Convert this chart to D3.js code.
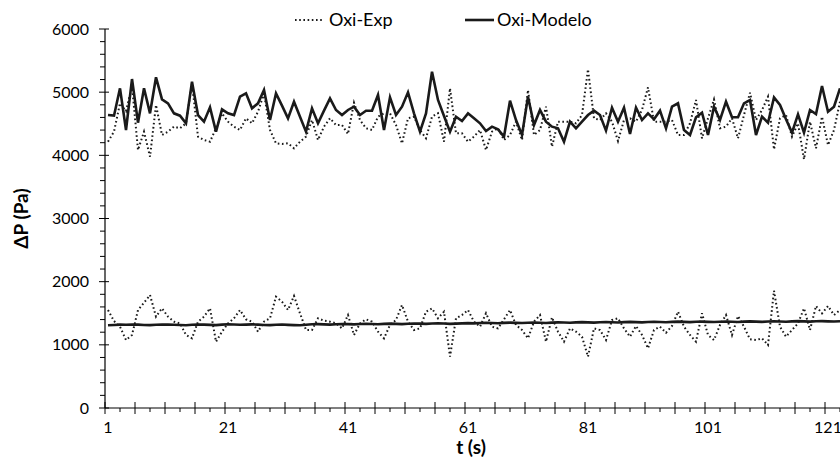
<!DOCTYPE html>
<html>
<head>
<meta charset="utf-8">
<script src="https://cdn.jsdelivr.net/npm/d3@7"></script>
<style>
  body { margin: 0; background: #fff; }
  svg { display: block; }
  text { font-family: Lato, "Open Sans", sans-serif; fill: #000; }
</style>
</head>
<body>
<svg id="chart" width="840" height="471"></svg>
<script>
// Pressure drop ΔP (Pa) per second: measured (Exp) vs. model (Modelo), two operating levels
const expHigh = [
  4216,4375,4823,4700,5100,4084,4375,3979,4797,4322,
  4375,4454,4428,4507,5140,4296,4243,4216,4428,4665,
  4533,4454,4401,4586,4507,4691,4981,4401,4190,4179,
  4190,4111,4216,4296,4559,4243,4454,4586,4480,4480,
  4338,4833,4559,4428,4401,4612,4665,4665,4480,4190,
  4586,4612,4401,4269,4612,4665,4216,5061,4348,4348,
  4216,4296,4401,4084,4375,4428,4243,4322,4533,4243,
  5034,4322,4400,4770,4137,4533,4533,4533,4507,4638,
  5361,4586,4559,4665,4533,4227,4559,4586,4533,4718,
  5076,4533,4533,4533,4559,4322,4322,4507,4876,4269,
  4586,4886,4428,4454,4586,4269,4638,4992,4559,4718,
  4929,4095,4586,4638,4296,4507,3937,4533,4111,4612,
  4163,4401,4849
];
const modelHigh = [
  4638,4628,5061,4401,5208,4517,5061,4665,5235,4886,
  4823,4665,4628,4507,5166,4638,4533,4760,4375,4728,
  4665,4638,4929,4981,4744,4823,5034,4559,4981,4786,
  4586,4849,4612,4375,4744,4507,4707,4902,4718,4638,
  4718,4770,4638,4707,4707,4955,4401,4918,4638,4770,
  4997,4665,4375,4665,5324,4876,4623,4375,4612,4543,
  4665,4586,4507,4385,4454,4412,4296,4865,4559,4322,
  4929,4480,4718,4533,4454,4428,4216,4533,4428,4533,
  4638,4707,4638,4391,4754,4533,4754,4338,4754,4559,
  4665,4570,4707,4428,4770,4823,4401,4322,4602,4675,
  4322,4770,4559,4849,4602,4602,4823,4876,4322,4612,
  4517,4918,4797,4570,4359,4649,4359,4718,4654,5097,
  4691,4770,5061
];
const expLow = [
  1551,1377,1287,1076,1156,1551,1667,1789,1446,1578,
  1446,1367,1340,1156,1103,1367,1446,1578,1050,1208,
  1340,1420,1551,1404,1367,1208,1367,1420,1762,1683,
  1551,1773,1499,1235,1235,1420,1382,1367,1340,1261,
  1472,1156,1340,1404,1367,1208,1103,1314,1393,1631,
  1367,1235,1261,1525,1578,1420,1525,813,1420,1472,
  1551,1367,1287,1499,1287,1261,1404,1551,1314,1235,
  1103,1367,1472,1050,1436,1208,1050,1261,1208,1129,
  813,1261,1235,1076,1393,1420,1261,1129,1298,1156,
  945,1235,1287,1192,1298,1525,1287,1156,1050,1499,
  1156,1076,1314,1472,1156,1456,1287,1087,1076,1103,
  997,1857,1287,1129,1235,1340,1578,1235,1615,1499,
  1615,1472,1550
];
const modelLow = [
  1310,1315,1320,1318,1322,1320,1315,1312,1318,1320,
  1322,1318,1315,1310,1318,1322,1320,1316,1312,1320,
  1325,1322,1318,1320,1324,1320,1315,1312,1318,1322,
  1316,1312,1310,1318,1325,1328,1324,1320,1326,1330,
  1328,1324,1330,1334,1330,1326,1332,1336,1332,1328,
  1334,1338,1336,1332,1338,1342,1338,1332,1336,1340,
  1344,1340,1346,1350,1346,1342,1348,1352,1348,1346,
  1350,1354,1350,1346,1352,1356,1354,1350,1356,1360,
  1356,1352,1358,1362,1358,1354,1360,1364,1360,1356,
  1362,1366,1362,1358,1364,1368,1364,1360,1366,1368,
  1364,1362,1366,1370,1366,1362,1368,1372,1368,1364,
  1370,1374,1370,1366,1372,1376,1372,1368,1374,1376,
  1372,1370,1374
];
const xTickLabels = [1, 21, 41, 61, 81, 101, 121];
const yTickValues = [0, 1000, 2000, 3000, 4000, 5000, 6000];
const seriesNames = ["Oxi-Exp", "Oxi-Modelo"];

const svg = d3.select("#chart");
const ink = "#1a1a1a";

// category k sits in the middle of its slot, slots 6 px wide starting at the value axis
const nCat = expHigh.length;
const x = d3.scaleLinear().domain([0.5, nCat + 0.5]).range([105, 105 + nCat * 6]);
const y = d3.scaleLinear().domain([0, 6000]).range([408, 29]);

// value axis: labels every 1000, minor ticks every 200
const yAxis = svg.append("g");
yAxis.append("line").attr("x1", x(0.5)).attr("x2", x(0.5))
  .attr("y1", y(0)).attr("y2", y(6000)).attr("stroke", "#000").attr("stroke-width", 1.2);
d3.range(0, 6001, 200).forEach(v => {
  const major = v % 1000 === 0;
  yAxis.append("line")
    .attr("x1", x(0.5) - (major ? 6 : 5)).attr("x2", x(0.5) + (major ? 4 : 0))
    .attr("y1", y(v)).attr("y2", y(v))
    .attr("stroke", "#000").attr("stroke-width", 1);
});
yAxis.selectAll("text.ylab").data(yTickValues).join("text")
  .attr("class", "ylab")
  .attr("x", 89).attr("y", d => y(d)).attr("dy", "0.35em")
  .attr("text-anchor", "end").attr("font-size", 16)
  .text(d => d);

// category axis: major ticks every 5 slots, minor halfway between
const xAxis = svg.append("g");
xAxis.append("line").attr("x1", x(0.5)).attr("x2", 840)
  .attr("y1", y(0)).attr("y2", y(0)).attr("stroke", "#000").attr("stroke-width", 1.2);
for (let b = 0.5; x(b) <= 840; b += 2.5) {
  const major = ((b - 0.5) / 2.5) % 2 === 0;
  xAxis.append("line")
    .attr("x1", x(b)).attr("x2", x(b))
    .attr("y1", y(0) - (major ? 6 : 0)).attr("y2", y(0) + (major ? 6 : 4))
    .attr("stroke", "#000").attr("stroke-width", 1);
}
xAxis.selectAll("text.xlab").data(xTickLabels).join("text")
  .attr("class", "xlab")
  .attr("x", d => x(d)).attr("y", 433)
  .attr("text-anchor", "middle").attr("font-size", 16)
  .text(d => d);

// axis titles
svg.append("text").attr("x", 471).attr("y", 454)
  .attr("text-anchor", "middle").attr("font-size", 19).attr("font-weight", "bold")
  .text("t (s)");
svg.append("text").attr("transform", `translate(28,${(y(0) + y(6000)) / 2}) rotate(-90)`)
  .attr("text-anchor", "middle").attr("font-size", 19).attr("font-weight", "bold")
  .text("ΔP (Pa)");

// series lines
const line = d3.line().x((d, i) => x(i + 1)).y(d => y(d));
const plot = svg.append("g");
const drawExp = data => plot.append("path").datum(data)
  .attr("d", line).attr("fill", "none").attr("stroke", ink)
  .attr("stroke-width", 2).attr("stroke-dasharray", "1.6,2.6")
  .attr("stroke-linecap", "butt");
const drawModel = data => plot.append("path").datum(data)
  .attr("d", line).attr("fill", "none").attr("stroke", ink)
  .attr("stroke-width", 2.6).attr("stroke-linejoin", "miter");

drawExp(expLow);
drawModel(modelLow);
drawExp(expHigh);
drawModel(modelHigh);

// legend
const legend = svg.append("g");
legend.append("line").attr("x1", 295).attr("x2", 323).attr("y1", 20).attr("y2", 20)
  .attr("stroke", ink).attr("stroke-width", 2).attr("stroke-dasharray", "1.6,2.6");
legend.append("text").attr("x", 329).attr("y", 20).attr("dy", "0.35em")
  .attr("font-size", 18).text(seriesNames[0]);
legend.append("line").attr("x1", 465).attr("x2", 494).attr("y1", 20).attr("y2", 20)
  .attr("stroke", ink).attr("stroke-width", 2.6);
legend.append("text").attr("x", 497).attr("y", 20).attr("dy", "0.35em")
  .attr("font-size", 18).text(seriesNames[1]);
</script>
</body>
</html>
